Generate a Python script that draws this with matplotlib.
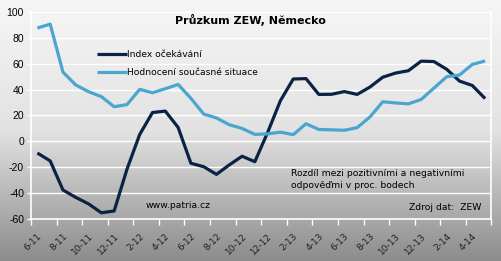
import numpy as np
import matplotlib
matplotlib.use("Agg")
import matplotlib.pyplot as plt
from matplotlib.colors import LinearSegmentedColormap

plt.rcParams["axes.unicode_minus"] = False

months = ["6-11", "7-11", "8-11", "9-11", "10-11", "11-11", "12-11",
          "1-12", "2-12", "3-12", "4-12", "5-12", "6-12", "7-12", "8-12", "9-12", "10-12", "11-12", "12-12",
          "1-13", "2-13", "3-13", "4-13", "5-13", "6-13", "7-13", "8-13", "9-13", "10-13", "11-13", "12-13",
          "1-14", "2-14", "3-14", "4-14", "5-14"]
index_ocekavani = [-9.0, -15.1, -37.6, -43.3, -48.3, -55.2, -53.8,
                   -21.6, 5.4, 22.3, 23.4, 10.8, -16.9, -19.6, -25.5, -18.2, -11.5, -15.7, 6.9,
                   31.5, 48.2, 48.5, 36.3, 36.4, 38.5, 36.3, 42.0, 49.6, 52.8, 54.6, 62.0,
                   61.7, 55.7, 46.6, 43.2, 33.1]
soucasna_situace = [87.6, 90.6, 53.5, 43.6, 38.4, 34.6, 26.8,
                    28.4, 40.2, 37.6, 40.7, 44.0, 33.3, 21.1, 18.1, 12.9, 10.0, 5.4, 5.8,
                    7.1, 5.2, 13.6, 9.2, 8.9, 8.6, 10.6, 18.9, 30.6, 29.7, 29.0, 32.4,
                    41.2, 50.0, 51.3, 59.5, 62.1]
yticks = [-60, -40, -20, 0, 20, 40, 60, 80, 100]

fig = plt.figure(figsize=(5.01, 2.61), dpi=100)

# background gradient
bg = fig.add_axes([0, 0, 1, 1], zorder=-10)
cmap = LinearSegmentedColormap.from_list("g", ["#f6f6f6", "#e2e2e2", "#8c8c8c"])
grad = np.linspace(0, 1, 256).reshape(-1, 1)
bg.imshow(grad, aspect="auto", cmap=cmap, extent=[0, 1, 0, 1], origin="upper")
bg.set_axis_off()

ax = fig.add_axes([31 / 501, 1 - 219 / 261, (491.5 - 31) / 501, (219 - 12) / 261])
ax.patch.set_alpha(0)

x = np.arange(len(months)) + 0.5
ax.plot(x, index_ocekavani, color="#0b2245", lw=2.3, solid_capstyle="butt", label="Index očekávání", zorder=3)
ax.plot(x, soucasna_situace, color="#4aa6cf", lw=2.3, solid_capstyle="butt", label="Hodnocení současné situace", zorder=3)

ax.set_xlim(0, len(months))
ax.set_ylim(-60, 100)
ax.set_yticks(yticks)
for v in yticks:
    ax.axhline(v, color="white", lw=1.0, zorder=1)

ax.set_xticks(np.arange(0, len(months) + 1, 2))
ax.set_xticklabels([])
ax.set_xticks(x[::2], minor=True)
ax.set_xticklabels(months[::2], minor=True, rotation=45, ha="right", rotation_mode="anchor",
                   fontsize=6.5, family="DejaVu Sans", color="#222222")
ax.tick_params(axis="x", which="minor", length=0, pad=9)
ax.tick_params(axis="x", which="major", length=4, color="white", width=1, direction="out")
ax.tick_params(axis="y", length=3, color="white", width=1, direction="out", labelsize=7.5,
               labelcolor="black", pad=2)
for lab in ax.get_yticklabels():
    lab.set_family("Liberation Sans")

for side in ["left", "bottom", "right"]:
    ax.spines[side].set_color("white")
    ax.spines[side].set_linewidth(1.2)
ax.spines["top"].set_visible(False)

fig.text(250 / 501, 1 - 20 / 261, "Průzkum ZEW, Německo", ha="center", va="center",
         fontsize=8, fontweight="bold", family="DejaVu Sans")

leg = ax.legend(loc="upper left", bbox_to_anchor=(97 / 501, 1 - 50 / 261), bbox_transform=fig.transFigure,
                frameon=False, fontsize=6.6, handlelength=3.3, handletextpad=0.0, labelspacing=1.0,
                borderaxespad=0, borderpad=0)
for t in leg.get_texts():
    t.set_family("DejaVu Sans")

fs = 6.7
fig.text(291 / 501, 1 - 174 / 261, "Rozdíl mezi pozitivními a negativními", ha="left", va="center",
         fontsize=fs, family="DejaVu Sans")
fig.text(291 / 501, 1 - 186 / 261, "odpověďmi v proc. bodech", ha="left", va="center",
         fontsize=fs, family="DejaVu Sans")
fig.text(146 / 501, 1 - 206 / 261, "www.patria.cz", ha="left", va="center",
         fontsize=fs, family="DejaVu Sans")
fig.text(481 / 501, 1 - 207 / 261, "Zdroj dat:  ZEW", ha="right", va="center",
         fontsize=fs, family="DejaVu Sans")

fig.savefig("out.png", dpi=100)
